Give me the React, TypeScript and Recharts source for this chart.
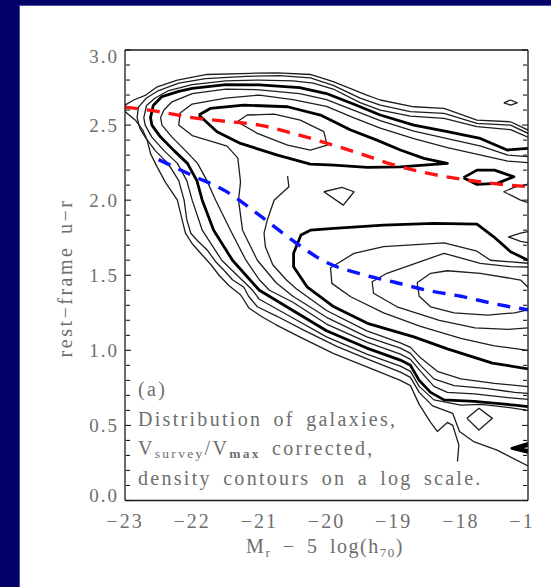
import React from 'react';
import { LineChart, Line, XAxis, YAxis } from 'recharts';

type Pt = [number, number];

const magTicks = [-23, -22, -21, -20, -19, -18, -17];
const magMinor = [-22.5, -21.5, -20.5, -19.5, -18.5, -17.5];
const colorTicks = [0, 0.5, 1, 1.5, 2, 2.5, 3];
const colorMinor = [
  0.1, 0.2, 0.3, 0.4, 0.6, 0.7, 0.8, 0.9, 1.1, 1.2, 1.3, 1.4,
  1.6, 1.7, 1.8, 1.9, 2.1, 2.2, 2.3, 2.4, 2.6, 2.7, 2.8, 2.9,
];

// density contours, [M_r, u-r] vertices, outermost first
const level1: Pt[] = [
  [-17.0, 2.467], [-17.26, 2.522], [-17.76, 2.533], [-18.25, 2.611], [-18.7, 2.622], [-19.2, 2.667],
  [-19.4, 2.7], [-19.9, 2.79], [-20.24, 2.837], [-20.73, 2.848], [-21.13, 2.845], [-21.78, 2.837],
  [-22.22, 2.8], [-22.52, 2.755], [-22.69, 2.7], [-22.87, 2.667], [-23.0, 2.633], [-23.0, 2.59],
  [-22.84, 2.53], [-22.74, 2.47], [-22.67, 2.4], [-22.62, 2.31], [-22.52, 2.22], [-22.4, 2.12],
  [-22.22, 2.0], [-22.15, 1.87], [-22.1, 1.78], [-22.0, 1.71], [-21.85, 1.635], [-21.72, 1.57],
  [-21.6, 1.5], [-21.45, 1.43], [-21.28, 1.37], [-21.15, 1.28], [-20.95, 1.22], [-20.75, 1.17],
  [-20.4, 1.09], [-19.9, 0.98], [-19.4, 0.89], [-18.9, 0.8], [-18.75, 0.765], [-18.62, 0.64],
  [-18.45, 0.52], [-18.35, 0.46], [-18.2, 0.52], [-18.12, 0.5], [-18.03, 0.37], [-18.05, 0.26],
];
const level2: Pt[] = [
  [-17.0, 2.445], [-17.26, 2.5], [-17.76, 2.511], [-18.25, 2.578], [-18.75, 2.589], [-19.2, 2.633],
  [-19.5, 2.68], [-19.9, 2.765], [-20.24, 2.815], [-20.7, 2.83], [-21.2, 2.825], [-21.8, 2.81],
  [-22.2, 2.78], [-22.5, 2.73], [-22.68, 2.68], [-22.8, 2.62], [-22.82, 2.55], [-22.78, 2.48],
  [-22.7, 2.42], [-22.55, 2.33], [-22.36, 2.245], [-22.2, 2.13], [-22.12, 2.0], [-22.08, 1.87],
  [-22.02, 1.78], [-21.92, 1.73], [-21.78, 1.67], [-21.65, 1.59], [-21.53, 1.535], [-21.4, 1.47],
  [-21.23, 1.42], [-21.16, 1.36], [-21.03, 1.29], [-20.73, 1.225], [-20.34, 1.135], [-19.84, 1.025],
  [-19.35, 0.935], [-18.9, 0.855], [-18.75, 0.82], [-18.62, 0.72], [-18.42, 0.63], [-18.12, 0.58],
  [-18.02, 0.46], [-17.8, 0.39], [-17.46, 0.335], [-17.0, 0.23],
];
const level3: Pt[] = [
  [-17.0, 2.42], [-17.26, 2.47], [-17.76, 2.49], [-18.25, 2.545], [-18.75, 2.56], [-19.2, 2.6],
  [-19.5, 2.65], [-19.9, 2.74], [-20.2, 2.78], [-20.5, 2.795], [-21.0, 2.8], [-21.5, 2.795],
  [-22.0, 2.77], [-22.35, 2.73], [-22.55, 2.68], [-22.68, 2.63], [-22.72, 2.55], [-22.7, 2.5],
  [-22.6, 2.42], [-22.42, 2.33], [-22.22, 2.245], [-22.08, 2.13], [-22.0, 2.0], [-21.85, 1.8],
  [-21.56, 1.6], [-21.1, 1.4], [-21.0, 1.34], [-20.5, 1.215], [-20.0, 1.09], [-19.4, 0.975],
  [-18.9, 0.895], [-18.75, 0.86], [-18.62, 0.76], [-18.4, 0.67], [-18.0, 0.635], [-17.7, 0.64],
  [-17.3, 0.62], [-17.0, 0.6],
];
const level4: Pt[] = [
  [-17.0, 2.345], [-17.31, 2.334], [-17.71, 2.411], [-18.2, 2.456], [-18.7, 2.5], [-19.2, 2.567],
  [-19.6, 2.64], [-20.0, 2.71], [-20.4, 2.75], [-21.0, 2.768], [-21.5, 2.77], [-22.0, 2.745],
  [-22.2, 2.725], [-22.45, 2.69], [-22.58, 2.63], [-22.62, 2.55], [-22.6, 2.5], [-22.47, 2.42],
  [-22.27, 2.33], [-22.07, 2.245], [-21.93, 2.13], [-21.85, 2.0], [-21.68, 1.8], [-21.4, 1.6],
  [-21.0, 1.4], [-20.5, 1.265], [-20.0, 1.13], [-19.4, 1.015], [-18.9, 0.935], [-18.75, 0.9],
  [-18.62, 0.8], [-18.45, 0.72], [-18.25, 0.67], [-17.8, 0.66], [-17.2, 0.635], [-17.0, 0.625],
];
const level5: Pt[] = [
  [-17.0, 2.29], [-17.3, 2.3], [-17.7, 2.36], [-18.2, 2.41], [-18.7, 2.46], [-19.2, 2.53],
  [-19.6, 2.6], [-20.0, 2.67], [-20.4, 2.71], [-21.0, 2.735], [-21.5, 2.74], [-22.0, 2.71],
  [-22.3, 2.655], [-22.42, 2.6], [-22.47, 2.55], [-22.45, 2.5], [-22.3, 2.42], [-22.1, 2.33],
  [-21.92, 2.245], [-21.78, 2.13], [-21.65, 2.0], [-21.43, 1.8], [-21.2, 1.6], [-21.0, 1.47],
  [-20.85, 1.4], [-20.5, 1.32], [-20.0, 1.175], [-19.4, 1.055], [-18.9, 0.975], [-18.75, 0.94],
  [-18.6, 0.86], [-18.4, 0.76], [-18.2, 0.72], [-17.8, 0.71], [-17.3, 0.685], [-17.0, 0.674],
];
const level6: Pt[] = [
  [-17.0, 2.25], [-17.3, 2.26], [-17.7, 2.3], [-18.2, 2.35], [-18.7, 2.41], [-19.2, 2.48],
  [-19.6, 2.55], [-20.0, 2.625], [-20.5, 2.67], [-21.0, 2.7], [-21.5, 2.68], [-22.0, 2.64],
  [-22.18, 2.58], [-22.2, 2.5], [-22.0, 2.43], [-21.7, 2.39], [-21.48, 2.36], [-21.32, 2.28],
  [-21.28, 2.12], [-21.31, 2.0], [-21.25, 1.8], [-21.03, 1.6], [-20.75, 1.45], [-20.5, 1.36],
  [-20.0, 1.22], [-19.4, 1.09], [-18.9, 1.015], [-18.75, 0.98], [-18.6, 0.9], [-18.4, 0.81],
  [-18.1, 0.765], [-17.6, 0.745], [-17.2, 0.72], [-17.0, 0.714],
];
const level7: Pt[] = [
  [-20.58, 2.16], [-20.56, 2.09], [-20.78, 2.0], [-20.88, 1.87], [-20.93, 1.78], [-20.91, 1.69],
  [-20.8, 1.57], [-20.6, 1.47], [-20.45, 1.41], [-20.0, 1.265], [-19.4, 1.13], [-18.9, 1.05],
  [-18.75, 1.02], [-18.6, 0.95], [-18.35, 0.86], [-18.0, 0.81], [-17.5, 0.78], [-17.0, 0.758],
];
const redPeak8: Pt[] = [
  [-21.9, 2.567], [-21.73, 2.611], [-21.23, 2.633], [-20.58, 2.622], [-20.09, 2.567], [-19.64, 2.467],
  [-19.25, 2.4], [-18.9, 2.334], [-18.55, 2.278], [-18.2, 2.245], [-18.9, 2.222], [-19.39, 2.218],
  [-19.89, 2.234], [-20.24, 2.24], [-20.73, 2.3], [-21.28, 2.378], [-21.63, 2.456], [-21.9, 2.567],
];
const redPeak9: Pt[] = [
  [-21.33, 2.522], [-21.18, 2.567], [-20.78, 2.573], [-20.39, 2.533], [-20.04, 2.456], [-19.99, 2.367],
  [-20.24, 2.334], [-20.58, 2.367], [-21.03, 2.445], [-21.33, 2.522],
];
const bluePeak8: Pt[] = [
  [-17.0, 1.6], [-17.26, 1.657], [-17.51, 1.756], [-17.76, 1.841], [-18.4, 1.845], [-19.15, 1.834],
  [-19.89, 1.812], [-20.24, 1.8], [-20.38, 1.768], [-20.49, 1.646], [-20.49, 1.557], [-20.29, 1.423],
  [-19.89, 1.29], [-19.39, 1.18], [-18.7, 1.09], [-18.2, 1.01], [-17.53, 0.915], [-17.0, 0.877],
];
const bluePeak9: Pt[] = [
  [-17.0, 1.58], [-17.56, 1.6], [-17.76, 1.66], [-18.25, 1.716], [-19.15, 1.69], [-19.59, 1.646],
  [-19.94, 1.55], [-19.92, 1.446], [-19.64, 1.357], [-19.15, 1.25], [-18.6, 1.16], [-18.0, 1.08],
  [-17.5, 1.03], [-17.0, 1.0],
];
const bluePeak10: Pt[] = [
  [-17.0, 1.555], [-17.26, 1.557], [-17.71, 1.579], [-18.25, 1.646], [-18.75, 1.568], [-19.1, 1.513],
  [-19.32, 1.457], [-19.3, 1.38], [-18.95, 1.29], [-18.32, 1.2], [-17.79, 1.15], [-17.3, 1.14],
  [-17.0, 1.15],
];
const bluePeak11: Pt[] = [
  [-17.0, 1.42], [-17.11, 1.468], [-17.71, 1.513], [-18.2, 1.53], [-18.45, 1.513], [-18.65, 1.45],
  [-18.62, 1.36], [-18.45, 1.29], [-18.1, 1.25], [-17.6, 1.235], [-17.2, 1.25], [-17.0, 1.27],
];

// small isolated pieces
const saddleIsland: Pt[] = [[-20.04, 2.056], [-19.77, 2.085], [-19.59, 2.056], [-19.75, 1.967], [-20.04, 2.056]];
const redIsland: Pt[] = [
  [-17.96, 2.15], [-17.76, 2.2], [-17.5, 2.2], [-17.21, 2.156], [-17.46, 2.112], [-17.76, 2.105], [-17.96, 2.15],
];
const edgeNotch: Pt[] = [[-17.0, 2.107], [-17.21, 2.085], [-17.36, 2.056], [-17.11, 2.0], [-17.0, 1.983]];
const edgeTongue: Pt[] = [[-17.0, 1.79], [-17.11, 1.78], [-17.29, 1.755], [-17.11, 1.725], [-17.0, 1.717]];
const topIsland: Pt[] = [[-17.36, 2.648], [-17.26, 2.667], [-17.16, 2.648], [-17.26, 2.633], [-17.36, 2.648]];
const blueIsland: Pt[] = [[-17.91, 0.547], [-17.73, 0.614], [-17.53, 0.547], [-17.73, 0.469], [-17.91, 0.547]];
const edgeWedge: Pt[] = [[-17.0, 0.38], [-17.24, 0.347], [-17.0, 0.32]];
const edgeWedgeInner: Pt[] = [[-17.0, 0.366], [-17.15, 0.347], [-17.0, 0.334]];

// fitted sequences
const redSequence: Pt[] = [
  [-23, 2.62], [-22.5, 2.59], [-22, 2.55], [-21.5, 2.525], [-21, 2.5], [-20.5, 2.445], [-20, 2.38],
  [-19.5, 2.31], [-19, 2.235], [-18.5, 2.18], [-18, 2.14], [-17.5, 2.11], [-17, 2.09],
];
const blueSequence: Pt[] = [
  [-22.5, 2.27], [-22, 2.165], [-21.5, 2.06], [-21, 1.9], [-20.5, 1.73], [-20, 1.585], [-19.5, 1.51],
  [-19, 1.455], [-18.5, 1.4], [-18, 1.36], [-17.5, 1.31], [-17, 1.27],
];

const contours: { pts: Pt[]; thick: boolean }[] = [
  { pts: level1, thick: false },
  { pts: level2, thick: false },
  { pts: level3, thick: false },
  { pts: level4, thick: true },
  { pts: level5, thick: false },
  { pts: level6, thick: false },
  { pts: level7, thick: false },
  { pts: redPeak8, thick: true },
  { pts: redPeak9, thick: false },
  { pts: bluePeak8, thick: true },
  { pts: bluePeak9, thick: false },
  { pts: bluePeak10, thick: false },
  { pts: bluePeak11, thick: false },
  { pts: saddleIsland, thick: false },
  { pts: redIsland, thick: true },
  { pts: edgeNotch, thick: false },
  { pts: edgeTongue, thick: false },
  { pts: topIsland, thick: false },
  { pts: blueIsland, thick: false },
  { pts: edgeWedge, thick: true },
  { pts: edgeWedgeInner, thick: true },
];

const rows = (pts: Pt[]) => pts.map(([mag, color]) => ({ mag, color }));

const FONT = '"Liberation Serif", "DejaVu Serif", serif';
const TEXT = '#6e6e6e';
const FRAME = '#1a1a1a';

const minus = (v: number) => (v < 0 ? `\u2212${Math.abs(v)}` : `${v}`);

const MagTick = (props: any) => {
  const { x, y, payload } = props;
  return (
    <text x={x} y={y} dy="0.71em" textAnchor="middle" fontFamily={FONT} fontSize={20}
      letterSpacing={2} fill={TEXT}>
      {minus(payload.value)}
    </text>
  );
};

const ColorTick = (props: any) => {
  const { x, y, payload } = props;
  // end labels are pulled inside the frame
  const nudge = payload.value === 3 ? 6 : payload.value === 0 ? -5 : 0;
  return (
    <text x={x} y={y + nudge} dy="0.355em" textAnchor="end" fontFamily={FONT} fontSize={19}
      letterSpacing={2} fill={TEXT}>
      {payload.value.toFixed(1)}
    </text>
  );
};

const NoLabel = () => <g />;

// inward tick marks on all four sides come from mirrored, label-less axes
const tickAxis = {
  type: 'number' as const,
  allowDataOverflow: true,
  interval: 0 as const,
  tick: <NoLabel />,
  mirror: true,
  tickLine: { stroke: FRAME, strokeWidth: 1.1 },
};
const frameLine = { stroke: FRAME, strokeWidth: 1.3 };

export default function App() {
  return (
    <div style={{ position: 'absolute', left: 0, top: 0, width: 551, height: 587, background: '#020268', overflow: 'hidden' }}>
      <div style={{ position: 'absolute', left: 19, top: 5, right: 0, bottom: 0, background: '#fff',
        borderLeft: '1px solid #5050b0', borderTop: '1px solid #5050b0' }} />
      <div style={{ position: 'absolute', left: 0, top: 0 }}>
        <LineChart width={533} height={587} margin={{ top: 50, right: 5, bottom: 0, left: 0 }}>
          <XAxis xAxisId="x" type="number" dataKey="mag" domain={[-23, -17]} ticks={magTicks} interval={0}
            allowDataOverflow height={86.5} tickLine={false} tickSize={0} tickMargin={13.5}
            axisLine={frameLine} tick={<MagTick />} />
          <XAxis xAxisId="xb1" {...tickAxis} domain={[-23, -17]} ticks={magTicks} height={1} tickSize={7}
            axisLine={false} />
          <XAxis xAxisId="xb2" {...tickAxis} domain={[-23, -17]} ticks={magMinor} height={1} tickSize={5}
            axisLine={false} />
          <XAxis xAxisId="xt1" {...tickAxis} orientation="top" domain={[-23, -17]} ticks={magTicks} height={1}
            tickSize={7} axisLine={frameLine} />
          <XAxis xAxisId="xt2" {...tickAxis} orientation="top" domain={[-23, -17]} ticks={magMinor} height={1}
            tickSize={5} axisLine={false} />

          <YAxis yAxisId="y" type="number" dataKey="color" domain={[0, 3]} ticks={colorTicks} interval={0}
            allowDataOverflow width={125} tickLine={false} tickSize={0} tickMargin={6}
            axisLine={frameLine} tick={<ColorTick />} />
          <YAxis yAxisId="yl1" {...tickAxis} domain={[0, 3]} ticks={colorTicks} width={1} tickSize={6}
            axisLine={false} />
          <YAxis yAxisId="yl2" {...tickAxis} domain={[0, 3]} ticks={colorMinor} width={1} tickSize={4}
            axisLine={false} />
          <YAxis yAxisId="yr1" {...tickAxis} orientation="right" domain={[0, 3]} ticks={colorTicks} width={1}
            tickSize={6} axisLine={frameLine} />
          <YAxis yAxisId="yr2" {...tickAxis} orientation="right" domain={[0, 3]} ticks={colorMinor} width={1}
            tickSize={4} axisLine={false} />

          {contours.map((c, i) => (
            <Line key={`c${i}`} xAxisId="x" yAxisId="y" data={rows(c.pts)} dataKey="color" type="linear"
              stroke={c.thick ? '#000' : '#1e1e1e'} strokeWidth={c.thick ? 2.8 : 1.3} strokeLinejoin="round"
              dot={false} activeDot={false} isAnimationActive={false} />
          ))}
          <Line xAxisId="x" yAxisId="y" data={rows(redSequence)} dataKey="color" type="monotone"
            stroke="#ff1414" strokeWidth={3.4} strokeDasharray="13 9" dot={false} activeDot={false}
            isAnimationActive={false} />
          <Line xAxisId="x" yAxisId="y" data={rows(blueSequence)} dataKey="color" type="monotone"
            stroke="#0a14ff" strokeWidth={3.4} strokeDasharray="13 9" dot={false} activeDot={false}
            isAnimationActive={false} />
        </LineChart>
      </div>
      <svg width={551} height={587} style={{ position: 'absolute', left: 0, top: 0, pointerEvents: 'none' }}>
        <g fontFamily={FONT} fill={TEXT} fontSize={20} letterSpacing={2.3} wordSpacing={4}>
          <text x={72} y={278} textAnchor="middle" transform="rotate(-90 72 278)" letterSpacing={2.5}>
            rest{'\u2212'}frame u{'\u2212'}r
          </text>
          <text x={325} y={553} textAnchor="middle" letterSpacing={1.5} wordSpacing={5}>
            M<tspan fontSize={13} dy={4}>r</tspan>
            <tspan dy={-4}> {'\u2212'} 5 log(h</tspan>
            <tspan fontSize={13} dy={4}>70</tspan>
            <tspan dy={-4}>)</tspan>
          </text>
          <text x={138} y={396}>(a)</text>
          <text x={138} y={425.5}>Distribution of galaxies,</text>
          <text x={138} y={455}>
            V<tspan fontSize={13.5} dy={3}>survey</tspan>
            <tspan dy={-3}>/V</tspan>
            <tspan fontSize={13.5} dy={3} fontWeight="bold">max</tspan>
            <tspan dy={-3}> corrected,</tspan>
          </text>
          <text x={138} y={484.5}>density contours on a log scale.</text>
        </g>
      </svg>
    </div>
  );
}
